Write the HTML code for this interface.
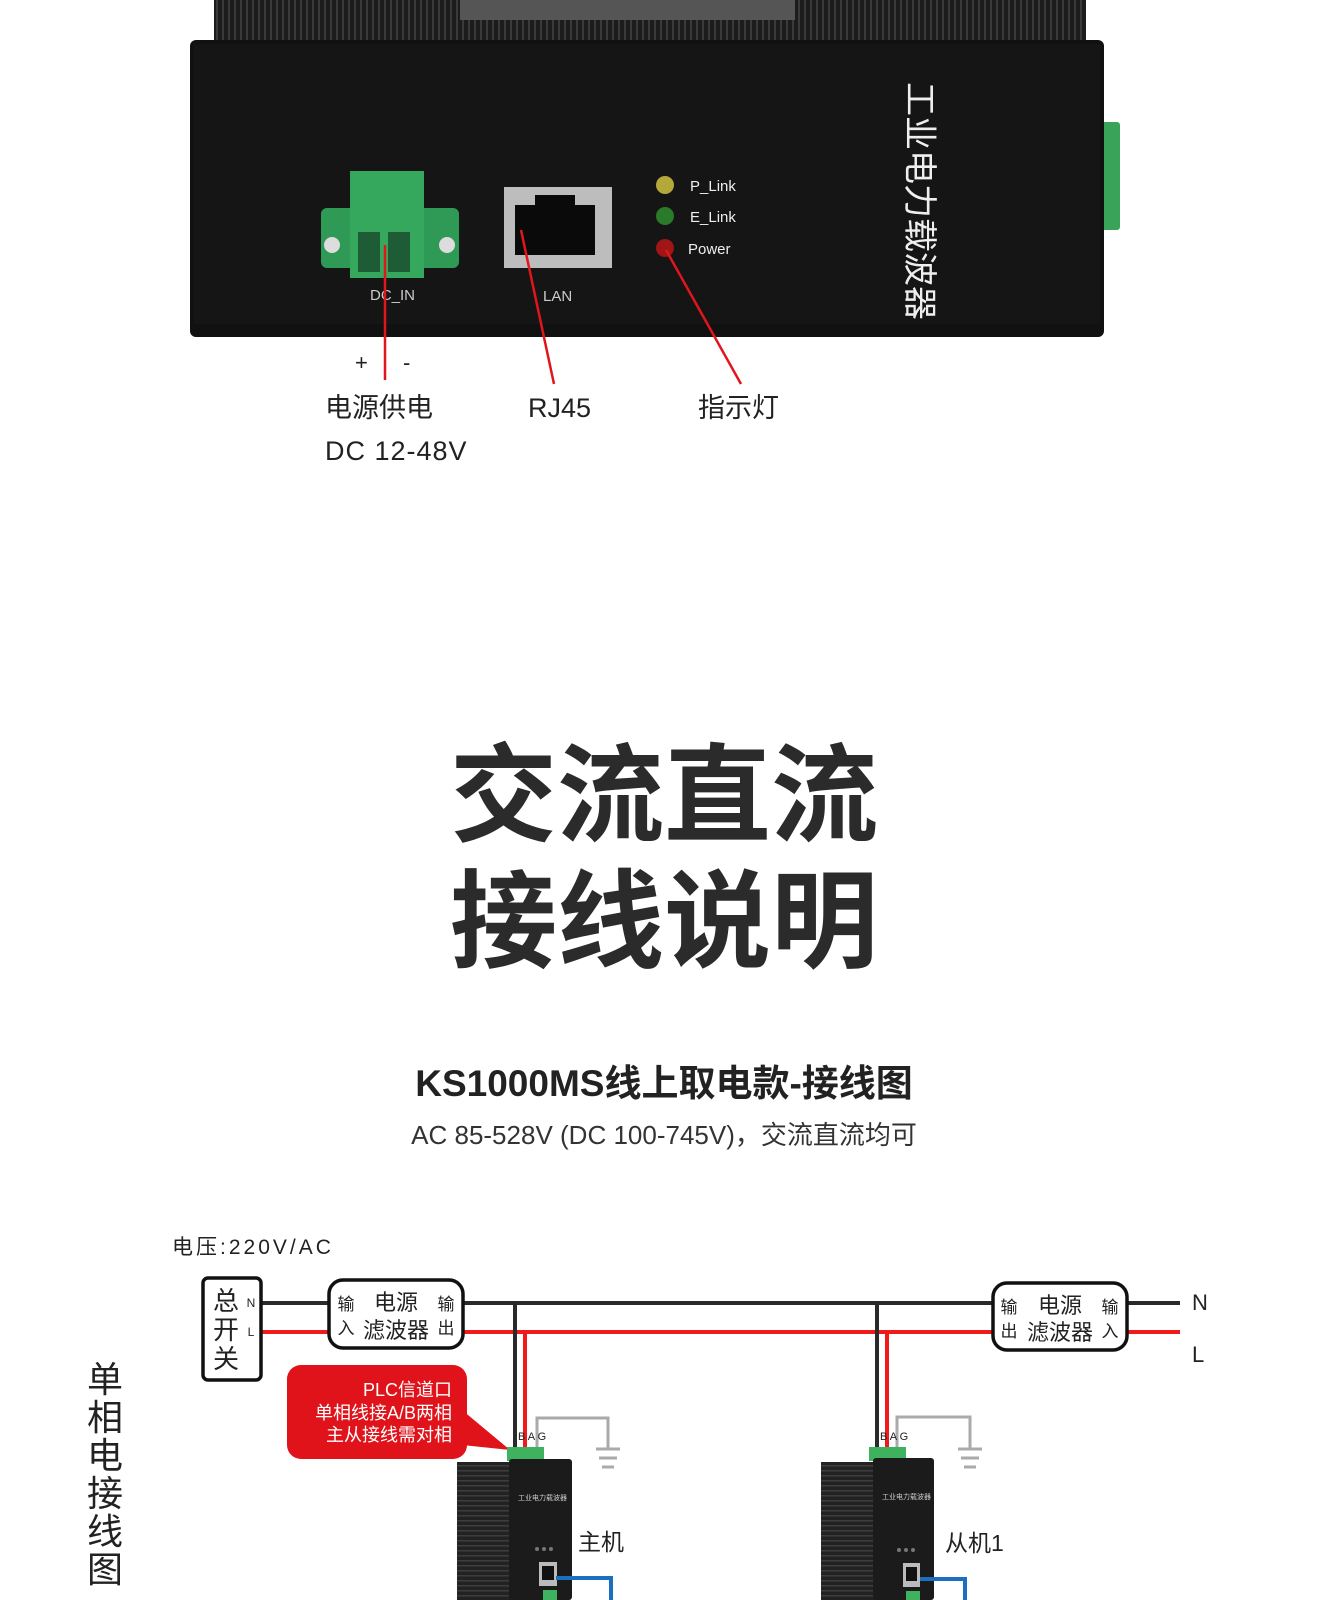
<!DOCTYPE html>
<html><head><meta charset="utf-8">
<style>
html,body{margin:0;padding:0;background:#fff;}
body{width:1321px;height:1600px;position:relative;overflow:hidden;font-family:"Liberation Sans","Noto Sans CJK SC",sans-serif;}
svg{position:absolute;left:0;top:0;}
</style></head><body>
<svg width="1321" height="1600" viewBox="0 0 1321 1600" xmlns="http://www.w3.org/2000/svg" font-family="Liberation Sans, Noto Sans CJK SC, sans-serif">
<defs>
<pattern id="fins" width="6" height="41" patternUnits="userSpaceOnUse"><rect width="6" height="41" fill="#1c1c1c"/><rect width="2" height="41" fill="#3a3a3a"/></pattern>
<pattern id="vfins" width="60" height="5" patternUnits="userSpaceOnUse"><rect width="60" height="5" fill="#222"/><rect width="60" height="1.5" fill="#3d3d3d"/></pattern>
</defs>
<rect x="214" y="0" width="872" height="44" fill="url(#fins)"/>
<rect x="460" y="0" width="335" height="20" fill="#555"/>
<rect x="1094" y="122" width="26" height="108" rx="3" fill="#3aa35a"/>
<rect x="190" y="40" width="914" height="297" rx="6" fill="#111"/>
<rect x="194" y="44" width="906" height="280" fill="#151515"/>
<rect x="321" y="208" width="138" height="60" rx="6" fill="#2f9a55"/>
<rect x="350" y="171" width="74" height="107" fill="#35a85d"/>
<rect x="358" y="232" width="22" height="40" fill="#1d5c34"/>
<rect x="388" y="232" width="22" height="40" fill="#1d5c34"/>
<circle cx="332" cy="245" r="8" fill="#ddd"/><circle cx="447" cy="245" r="8" fill="#ddd"/>
<rect x="504" y="187" width="108" height="81" fill="#bdbdbd"/>
<rect x="515" y="205" width="80" height="50" fill="#0a0a0a"/>
<rect x="535" y="195" width="40" height="12" fill="#0a0a0a"/>
<circle cx="665" cy="185" r="9" fill="#b5a83a"/>
<circle cx="665" cy="216" r="9" fill="#2a7a2a"/>
<circle cx="665" cy="248" r="9" fill="#a01515"/>
<g fill="#eee" font-size="15">
<text x="690" y="191">P_Link</text><text x="690" y="222">E_Link</text><text x="688" y="254">Power</text>
<text x="370" y="300" fill="#ccc">DC_IN</text><text x="543" y="301" fill="#ccc">LAN</text>
</g>
<text x="0" y="0" transform="translate(908,82) rotate(90)" font-size="34" fill="#eee">工业电力载波器</text>
<g stroke="#e0161c" stroke-width="2.5">
<line x1="385" y1="245" x2="385" y2="380"/><line x1="521" y1="230" x2="554" y2="384"/><line x1="666" y1="250" x2="741" y2="384"/>
</g>
<g font-size="27" fill="#222">
<text x="355" y="370" font-size="22">+</text><text x="403" y="370" font-size="22">-</text>
<text x="325" y="417">电源供电</text><text x="325" y="460" letter-spacing="1">DC 12-48V</text>
<text x="528" y="417">RJ45</text><text x="698" y="417">指示灯</text>
</g>
<g font-size="107" font-weight="bold" fill="#2b2b2b" text-anchor="middle">
<text x="664" y="833">交流直流</text><text x="664" y="959">接线说明</text>
</g>
<text x="664" y="1096" font-size="37" font-weight="bold" fill="#222" text-anchor="middle">KS1000MS线上取电款-接线图</text>
<text x="664" y="1144" font-size="26" fill="#333" text-anchor="middle">AC 85-528V (DC 100-745V)，交流直流均可</text>
<text x="172" y="1254" font-size="21" fill="#222" letter-spacing="3">电压:220V/AC</text>
<g stroke-width="4">
<line x1="262" y1="1303" x2="1180" y2="1303" stroke="#2a2a2a"/>
<line x1="262" y1="1332" x2="1180" y2="1332" stroke="#f01a1a"/>
<line x1="515" y1="1303" x2="515" y2="1450" stroke="#2a2a2a"/>
<line x1="525" y1="1332" x2="525" y2="1450" stroke="#f01a1a"/>
<line x1="877" y1="1303" x2="877" y2="1450" stroke="#2a2a2a"/>
<line x1="887" y1="1332" x2="887" y2="1450" stroke="#f01a1a"/>
</g>
<g stroke="#aaa" stroke-width="3" fill="none">
<polyline points="537,1450 537,1418 608,1418 608,1448"/>
<polyline points="897,1450 897,1417 970,1417 970,1448"/>
</g>
<g stroke="#aaa" stroke-width="3">
<line x1="596" y1="1449" x2="620" y2="1449"/><line x1="599" y1="1458" x2="617" y2="1458"/><line x1="602" y1="1467" x2="614" y2="1467"/>
<line x1="958" y1="1449" x2="982" y2="1449"/><line x1="961" y1="1458" x2="979" y2="1458"/><line x1="964" y1="1467" x2="976" y2="1467"/>
</g>
<rect x="203" y="1278" width="58" height="102" rx="5" fill="#fff" stroke="#111" stroke-width="3.5"/>
<g font-size="26" fill="#222" text-anchor="middle"><text x="226" y="1310">总</text><text x="226" y="1339">开</text><text x="226" y="1368">关</text></g>
<text x="251" y="1307" font-size="12" fill="#222" text-anchor="middle">N</text>
<text x="251" y="1336" font-size="12" fill="#222" text-anchor="middle">L</text>
<rect x="329" y="1280" width="134" height="68" rx="14" fill="#fff" stroke="#111" stroke-width="3.5"/>
<g fill="#222" text-anchor="middle">
<text x="346" y="1310" font-size="17">输</text><text x="346" y="1334" font-size="17">入</text>
<text x="446" y="1310" font-size="17">输</text><text x="446" y="1334" font-size="17">出</text>
<text x="396" y="1310" font-size="22">电源</text><text x="396" y="1338" font-size="22">滤波器</text>
</g>
<rect x="993" y="1283" width="134" height="67" rx="14" fill="#fff" stroke="#111" stroke-width="3.5"/>
<g fill="#222" text-anchor="middle">
<text x="1009" y="1313" font-size="17">输</text><text x="1009" y="1337" font-size="17">出</text>
<text x="1110" y="1313" font-size="17">输</text><text x="1110" y="1337" font-size="17">入</text>
<text x="1060" y="1313" font-size="22">电源</text><text x="1060" y="1340" font-size="22">滤波器</text>
</g>
<text x="1192" y="1310" font-size="22" fill="#222">N</text>
<text x="1192" y="1362" font-size="22" fill="#222">L</text>
<rect x="287" y="1365" width="180" height="94" rx="14" fill="#e0131b"/>
<polygon points="462,1410 462,1445 510,1450" fill="#e0131b"/>
<g fill="#fff" font-size="18" text-anchor="end">
<text x="452" y="1396">PLC信道口</text><text x="452" y="1419">单相线接A/B两相</text><text x="452" y="1441">主从接线需对相</text>
</g>
<g font-size="11" fill="#222"><text x="518" y="1440">B A G</text><text x="880" y="1440">B A G</text></g>
<rect x="507" y="1447" width="37" height="14" fill="#3fb25f"/>
<rect x="869" y="1447" width="37" height="14" fill="#3fb25f"/>
<rect x="457" y="1462" width="58" height="138" fill="url(#vfins)"/>
<rect x="509" y="1459" width="63" height="141" rx="3" fill="#1b1b1b"/>
<rect x="821" y="1462" width="58" height="138" fill="url(#vfins)"/>
<rect x="873" y="1458" width="61" height="142" rx="3" fill="#1b1b1b"/>
<g fill="#ccc" font-size="7"><text x="518" y="1500">工业电力载波器</text><text x="882" y="1499">工业电力载波器</text></g>
<g fill="#777"><circle cx="537" cy="1549" r="2"/><circle cx="544" cy="1549" r="2"/><circle cx="551" cy="1549" r="2"/>
<circle cx="899" cy="1550" r="2"/><circle cx="906" cy="1550" r="2"/><circle cx="913" cy="1550" r="2"/></g>
<rect x="539" y="1562" width="18" height="24" fill="#bbb"/><rect x="542" y="1566" width="12" height="14" fill="#111"/>
<rect x="903" y="1563" width="17" height="24" fill="#bbb"/><rect x="906" y="1567" width="11" height="14" fill="#111"/>
<rect x="543" y="1590" width="14" height="10" fill="#3fb25f"/><rect x="906" y="1591" width="14" height="9" fill="#3fb25f"/>
<g stroke="#1a6fc0" stroke-width="4" fill="none">
<polyline points="556,1578 611,1578 611,1600"/><polyline points="920,1579 965,1579 965,1600"/>
</g>
<text x="578" y="1550" font-size="23" fill="#222">主机</text>
<text x="945" y="1551" font-size="23" fill="#222">从机1</text>
<g font-size="36" fill="#222" text-anchor="middle">
<text x="105" y="1392">单</text><text x="105" y="1430">相</text><text x="105" y="1468">电</text><text x="105" y="1506">接</text><text x="105" y="1544">线</text><text x="105" y="1582">图</text>
</g>
</svg>
</body></html>
